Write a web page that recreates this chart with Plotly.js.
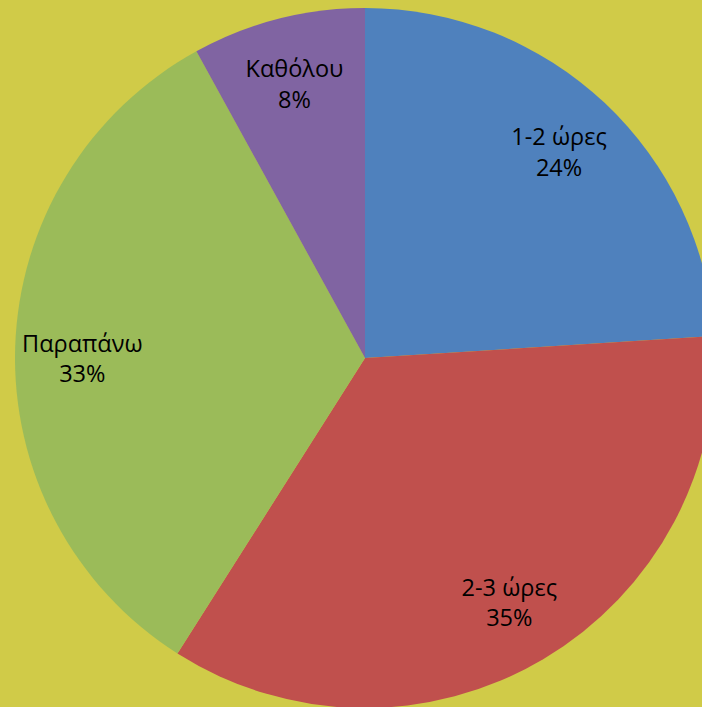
<!DOCTYPE html>
<html>
<head>
<meta charset="utf-8">
<script src="https://cdn.plot.ly/plotly-3.0.1.min.js"></script>
<style>
html, body { margin:0; padding:0; overflow:hidden; background:#D0CB48; }
#chart { width:730px; height:720px; }
</style>
</head>
<body>
<div id="chart"></div>
<script>
const labels = ["1-2 ώρες", "2-3 ώρες", "Παραπάνω", "Καθόλου"];
const values = [24, 35, 33, 8];
const colors = ["#4F81BD", "#C0504D", "#9BBB59", "#8064A2"];

const W = 730, H = 720;
const dom = { x: [15 / W, 715 / W], y: [1 - 708 / H, 1 - 8 / H] };
const data = [{
  type: "pie",
  labels: labels,
  values: values,
  sort: false,
  direction: "clockwise",
  rotation: 0,
  marker: { colors: colors, line: { width: 0 } },
  textinfo: "none",
  hoverinfo: "none",
  domain: dom
}, {
  type: "pie",
  labels: labels,
  values: values,
  sort: false,
  direction: "clockwise",
  rotation: 0,
  hole: 0.62,
  marker: { colors: ["rgba(0,0,0,0)", "rgba(0,0,0,0)", "rgba(0,0,0,0)", "rgba(0,0,0,0)"], line: { width: 0 } },
  textinfo: "label+percent",
  textposition: "inside",
  insidetextorientation: "horizontal",
  textfont: { family: "Open Sans, Noto Sans, sans-serif", size: 23.5, color: "#000000" },
  hoverinfo: "none",
  domain: dom
}];
const layout = {
  width: W, height: H,
  margin: { l: 0, r: 0, t: 0, b: 0 },
  paper_bgcolor: "#D0CB48",
  showlegend: false
};
Plotly.newPlot("chart", data, layout, { staticPlot: true });
</script>
</body>
</html>
